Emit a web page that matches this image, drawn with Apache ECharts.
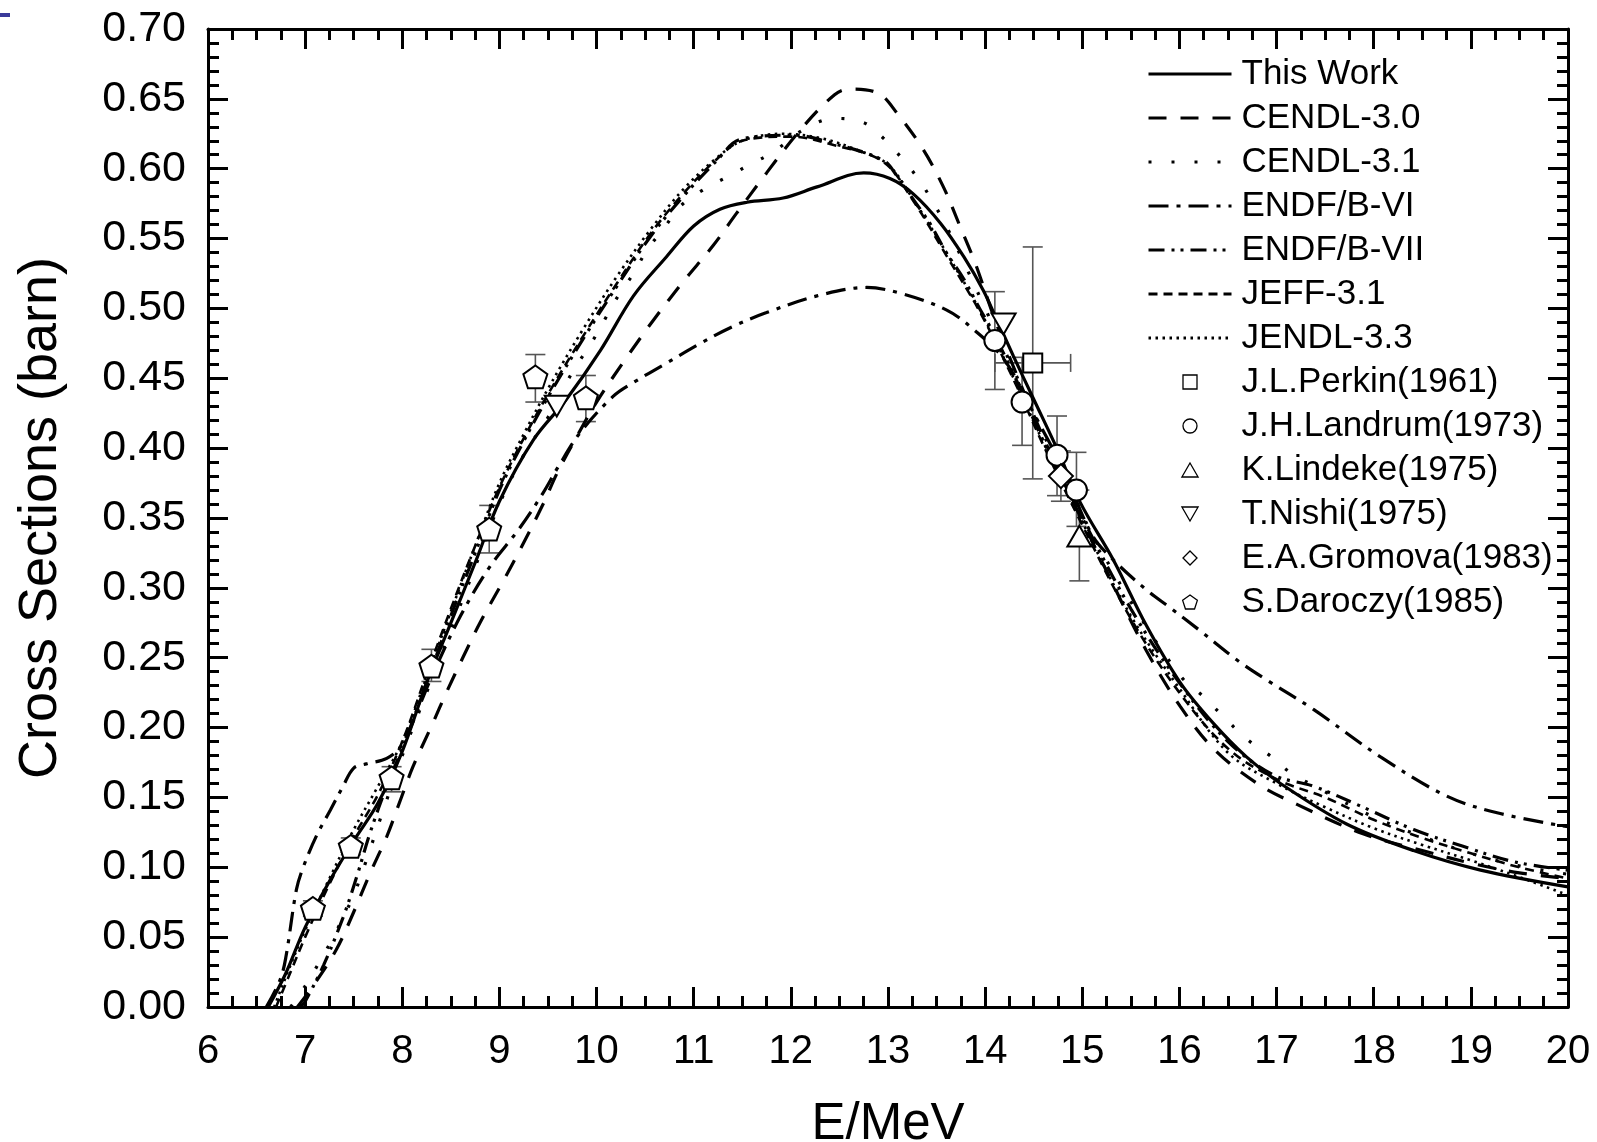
<!DOCTYPE html>
<html>
<head>
<meta charset="utf-8">
<script src="https://cdn.jsdelivr.net/npm/echarts@6/dist/echarts.min.js"></script>
<style>html,body{margin:0;padding:0;background:#fff;}#c{width:1597px;height:1142px;}</style>
</head>
<body>
<div id="c"></div>
<script>
// ---- data (E in MeV, cross section in barn) ----
const xTicks = [6,7,8,9,10,11,12,13,14,15,16,17,18,19,20];
const yTicks = ['0.00','0.05','0.10','0.15','0.20','0.25','0.30','0.35','0.40','0.45','0.50','0.55','0.60','0.65','0.70'];

const thisWork = [[6.62,0],[6.8,0.024],[7.0,0.057],[7.25,0.09],[7.5,0.119],[7.75,0.146],[8.0,0.183],[8.25,0.232],[8.5,0.275],[8.75,0.318],[9.0,0.362],[9.35,0.406],[9.69,0.435],[10.04,0.470],[10.38,0.509],[10.72,0.537],[11.0,0.559],[11.27,0.571],[11.55,0.576],[11.92,0.579],[12.27,0.587],[12.75,0.597],[13.02,0.593],[13.26,0.582],[13.54,0.561],[13.78,0.537],[13.98,0.513],[14.12,0.492],[14.29,0.466],[14.5,0.435],[14.75,0.398],[14.98,0.361],[15.32,0.320],[15.66,0.273],[16.01,0.232],[16.35,0.203],[16.69,0.179],[17.04,0.160],[17.72,0.131],[18.41,0.112],[19.1,0.098],[20.0,0.086]];
const cendl30 = [[6.92,0],[7.08,0.015],[7.32,0.041],[7.5,0.068],[7.67,0.096],[7.84,0.122],[7.98,0.148],[8.11,0.172],[8.3,0.201],[8.46,0.226],[8.63,0.251],[8.8,0.275],[9.04,0.305],[9.24,0.331],[9.45,0.36],[9.6,0.383],[9.81,0.41],[10.0,0.433],[10.31,0.465],[10.6,0.493],[10.89,0.519],[11.2,0.545],[11.44,0.568],[11.75,0.597],[12.1,0.628],[12.45,0.653],[12.6,0.657],[12.9,0.654],[13.09,0.640],[13.36,0.614],[13.57,0.587],[13.74,0.559],[13.9,0.532],[14.1,0.492],[14.4,0.44],[14.7,0.392],[15.0,0.348],[15.32,0.302],[15.66,0.255],[16.01,0.215],[16.35,0.185],[16.8,0.160],[17.21,0.145],[17.89,0.124],[18.5,0.112],[19.0,0.103],[19.5,0.096],[20.0,0.092]];
const cendl31 = [[6.85,0],[7.0,0.015],[7.17,0.035],[7.29,0.05],[7.39,0.064],[7.5,0.08],[7.63,0.105],[7.79,0.138],[8.0,0.18],[8.25,0.225],[8.5,0.27],[8.75,0.315],[9.0,0.36],[9.25,0.395],[9.5,0.422],[9.69,0.447],[9.83,0.463],[9.97,0.478],[10.1,0.494],[10.24,0.511],[10.38,0.525],[10.52,0.542],[10.69,0.557],[10.86,0.573],[11.1,0.585],[11.34,0.594],[11.58,0.603],[11.82,0.612],[12.13,0.628],[12.45,0.636],[12.75,0.633],[12.95,0.622],[13.16,0.606],[13.33,0.591],[13.48,0.574],[13.6,0.559],[13.8,0.53],[14.0,0.5],[14.3,0.455],[14.6,0.41],[15.0,0.352],[15.5,0.29],[16.01,0.237],[16.25,0.222],[16.45,0.208],[16.69,0.192],[16.93,0.180],[17.14,0.168],[17.5,0.154],[18.0,0.136],[18.5,0.122],[19.0,0.11],[19.5,0.101],[20.0,0.095]];
const endf6 = [[6.6,0],[6.74,0.019],[6.8,0.035],[6.91,0.084],[6.98,0.1],[7.12,0.123],[7.26,0.141],[7.39,0.158],[7.5,0.171],[7.63,0.174],[7.84,0.178],[8.0,0.188],[8.3,0.236],[8.6,0.28],[8.9,0.315],[9.2,0.342],[9.45,0.368],[9.6,0.386],[9.83,0.411],[10.17,0.437],[10.38,0.447],[10.7,0.46],[11.07,0.475],[11.4,0.487],[11.75,0.497],[12.27,0.509],[12.78,0.515],[13.12,0.511],[13.6,0.499],[13.88,0.485],[14.2,0.463],[14.5,0.425],[14.8,0.385],[15.1,0.338],[15.32,0.32],[15.67,0.298],[15.9,0.286],[16.2,0.27],[16.6,0.248],[16.9,0.234],[17.38,0.213],[18.07,0.179],[18.75,0.151],[19.27,0.139],[20.0,0.129]];
const endf7 = [[6.95,0],[7.0,0.004],[7.19,0.03],[7.39,0.064],[7.53,0.093],[7.67,0.125],[7.85,0.16],[8.0,0.185],[8.25,0.232],[8.5,0.28],[8.75,0.325],[9.0,0.37],[9.25,0.405],[9.52,0.439],[9.86,0.478],[10.21,0.516],[10.55,0.551],[10.89,0.580],[11.24,0.606],[11.48,0.621],[12.03,0.624],[12.44,0.618],[12.95,0.606],[13.09,0.595],[13.26,0.578],[13.43,0.561],[13.6,0.540],[13.78,0.521],[13.95,0.499],[14.05,0.487],[14.3,0.452],[14.6,0.405],[15.0,0.35],[15.5,0.285],[16.0,0.232],[16.5,0.19],[16.97,0.166],[17.38,0.158],[17.89,0.143],[18.41,0.127],[18.92,0.115],[19.44,0.104],[20.0,0.098]];
const jeff31 = [[6.7,0],[6.85,0.025],[7.0,0.05],[7.25,0.088],[7.5,0.122],[7.75,0.152],[8.0,0.19],[8.25,0.238],[8.5,0.285],[8.75,0.33],[9.0,0.372],[9.25,0.407],[9.52,0.441],[9.86,0.48],[10.21,0.518],[10.55,0.553],[10.89,0.582],[11.24,0.607],[11.5,0.62],[12.0,0.623],[12.44,0.617],[12.95,0.605],[13.26,0.577],[13.6,0.538],[13.95,0.497],[14.3,0.448],[14.6,0.402],[15.0,0.345],[15.5,0.278],[16.0,0.225],[16.5,0.185],[17.0,0.163],[17.5,0.15],[18.0,0.134],[18.5,0.121],[19.0,0.11],[19.5,0.1],[20.0,0.092]];
const jendl33 = [[6.68,0],[6.85,0.03],[7.0,0.055],[7.25,0.092],[7.5,0.127],[7.75,0.158],[8.0,0.19],[8.25,0.236],[8.5,0.283],[8.75,0.33],[9.0,0.375],[9.25,0.41],[9.52,0.445],[9.86,0.485],[10.21,0.523],[10.55,0.556],[10.89,0.585],[11.24,0.608],[11.5,0.62],[11.9,0.625],[12.3,0.622],[12.7,0.613],[13.0,0.603],[13.26,0.578],[13.6,0.54],[13.95,0.498],[14.3,0.449],[14.6,0.404],[15.0,0.347],[15.5,0.28],[16.0,0.228],[16.5,0.182],[17.0,0.16],[17.5,0.143],[18.0,0.128],[18.5,0.116],[19.0,0.105],[19.5,0.093],[20.0,0.08]];

const perkin = [[14.49,0.461]];
const landrum = [[14.10,0.477],[14.38,0.433],[14.74,0.395],[14.94,0.370]];
const lindeke = [[14.97,0.337]];
const nishi = [[9.59,0.430],[14.19,0.489]];
const gromova = [[14.78,0.380]];
const daroczy = [[7.08,0.0706],[7.47,0.115],[7.89,0.164],[8.30,0.244],[8.895,0.342],[9.37,0.451],[9.89,0.436]];

// vertical error bars: [E, low, high]
const yErrors = [[7.08,0.065,0.076],[7.47,0.109,0.121],[7.89,0.154,0.172],[8.30,0.233,0.256],[8.895,0.325,0.359],[9.37,0.433,0.467],[9.89,0.419,0.452],
  [14.10,0.442,0.512],[14.38,0.402,0.465],[14.74,0.366,0.423],[14.94,0.344,0.397],[14.78,0.362,0.398],[14.97,0.305,0.370],[14.49,0.378,0.544]];
// horizontal error bars: [sigma, Elow, Ehigh]
const xErrors = [[0.461,14.10,14.88]];

const FONT = '"Liberation Sans", Arial, Helvetica, sans-serif';
const chart = echarts.init(document.getElementById('c'), null, {renderer:'canvas'});

function lineSeries(name, data, type, width){
  return {name, type:'line', data, symbol:'none', smooth:0.35, z:3,
    lineStyle:{color:'#000', width:width||3, type:type, cap:'butt'},
    itemStyle:{color:'#000'}, emphasis:{disabled:true}, silent:true};
}
function scatterSeries(name, data, symbol, size){
  return {name, type:'scatter', data, symbol, symbolSize:size, symbolKeepAspect:true, z:5,
    itemStyle:{color:'#fff', borderColor:'#000', borderWidth:2, opacity:1}, emphasis:{disabled:true}, silent:true};
}
const PENTAGON = 'path://M5,0 L10,3.63 L8.09,9.51 L1.91,9.51 L0,3.63 Z';
const TRI_DOWN = 'path://M0,0 L10,0 L5,8.66 Z';
const TRI_UP = 'path://M5,0 L10,8.66 L0,8.66 Z';
const SQUARE = 'path://M0,0 L10,0 L10,10 L0,10 Z';
const DIAMOND = 'path://M5,0 L10,5 L5,10 L0,5 Z';

const errStyle = {stroke:'#555', lineWidth:1.6};
const axisLineS = {show:true, onZero:false, lineStyle:{color:'#000', width:3}};
const axisTickS = {show:true, inside:true, length:20, lineStyle:{color:'#000', width:3}};
const lineNames = ['This Work','CENDL-3.0','CENDL-3.1','ENDF/B-VI','ENDF/B-VII','JEFF-3.1','JENDL-3.3'];
const pointNames = ['J.L.Perkin(1961)','J.H.Landrum(1973)','K.Lindeke(1975)','T.Nishi(1975)','E.A.Gromova(1983)','S.Daroczy(1985)'];

chart.setOption({
  animation:false,
  backgroundColor:'#fff',
  textStyle:{fontFamily:FONT},
  grid:{left:208, right:29, top:29, bottom:135, containLabel:false, outerBoundsMode:'none'},
  graphic:[{type:'rect', left:0, top:13, shape:{width:10, height:4}, style:{fill:'#3a3a9a'}}],
  legend:{
    orient:'vertical', left:1147, top:56, padding:0, itemGap:8,
    itemWidth:83, itemHeight:14,
    textStyle:{fontSize:35, color:'#000', fontFamily:FONT, lineHeight:36, padding:[0,0,0,5]},
    itemStyle:{borderWidth:1.3},
    lineStyle:{width:3},
    selectedMode:false,
    data: lineNames.map(n=>({name:n, itemStyle:{opacity:0}})).concat(pointNames.map(n=>({name:n})))
  },
  xAxis:[
    {type:'value', min:6, max:20, interval:1, position:'bottom',
      name:'E/MeV', nameLocation:'middle', nameGap:92,
      nameTextStyle:{fontSize:51, color:'#000', fontFamily:FONT},
      axisLine:axisLineS, axisTick:axisTickS, splitLine:{show:false},
      minorTick:{show:true, splitNumber:4, length:11, lineStyle:{color:'#000', width:3}},
      axisLabel:{fontSize:40, color:'#000', margin:25, fontFamily:FONT,
        formatter:v=>xTicks.includes(Math.round(v)) ? String(Math.round(v)) : ''}},
    {type:'value', min:6, max:20, interval:1, position:'top',
      axisLine:axisLineS, axisTick:axisTickS,
      minorTick:{show:true, splitNumber:4, length:11, lineStyle:{color:'#000', width:3}},
      axisLabel:{show:false}, splitLine:{show:false}}
  ],
  yAxis:[
    {type:'value', min:0, max:0.7, interval:0.05, position:'left',
      name:'Cross Sections (barn)', nameLocation:'middle', nameGap:140,
      nameTextStyle:{fontSize:54, color:'#000', fontFamily:FONT},
      axisLine:axisLineS, axisTick:axisTickS,
      minorTick:{show:true, splitNumber:5, length:11, lineStyle:{color:'#000', width:3}},
      splitLine:{show:false},
      axisLabel:{fontSize:43, color:'#000', margin:22, fontFamily:FONT,
        formatter:v=>yTicks[Math.round(v/0.05)] || ''}},
    {type:'value', min:0, max:0.7, interval:0.05, position:'right',
      axisLine:axisLineS, axisTick:axisTickS,
      minorTick:{show:true, splitNumber:5, length:11, lineStyle:{color:'#000', width:3}},
      axisLabel:{show:false}, splitLine:{show:false}}
  ],
  series:[
    {type:'custom', name:'yerr', data:yErrors, z:2, silent:true,
      encode:{x:0, y:[1,2]},
      renderItem:(params, api)=>{
        const x=api.value(0), lo=api.value(1), hi=api.value(2);
        const a=api.coord([x,lo]), b=api.coord([x,hi]); const c=10;
        return {type:'group', children:[
          {type:'line', shape:{x1:a[0],y1:a[1],x2:b[0],y2:b[1]}, style:errStyle},
          {type:'line', shape:{x1:a[0]-c,y1:a[1],x2:a[0]+c,y2:a[1]}, style:errStyle},
          {type:'line', shape:{x1:b[0]-c,y1:b[1],x2:b[0]+c,y2:b[1]}, style:errStyle}
        ]};
      }},
    {type:'custom', name:'xerr', data:xErrors, z:2, silent:true,
      encode:{y:0, x:[1,2]},
      renderItem:(params, api)=>{
        const y=api.value(0), lo=api.value(1), hi=api.value(2);
        const a=api.coord([lo,y]), b=api.coord([hi,y]); const c=9;
        return {type:'group', children:[
          {type:'line', shape:{x1:a[0],y1:a[1],x2:b[0],y2:b[1]}, style:errStyle},
          {type:'line', shape:{x1:a[0],y1:a[1]-c,x2:a[0],y2:a[1]+c}, style:errStyle},
          {type:'line', shape:{x1:b[0],y1:b[1]-c,x2:b[0],y2:b[1]+c}, style:errStyle}
        ]};
      }},
    lineSeries('This Work', thisWork, 'solid', 3.2),
    lineSeries('CENDL-3.0', cendl30, [18,14], 3.2),
    lineSeries('CENDL-3.1', cendl31, [3,20], 3.2),
    lineSeries('ENDF/B-VI', endf6, [20,8,4,8], 3.2),
    lineSeries('ENDF/B-VII', endf7, [16,7,3,6,3,7], 3.2),
    lineSeries('JEFF-3.1', jeff31, [9,6], 2.6),
    lineSeries('JENDL-3.3', jendl33, [2.5,4.5], 2.6),
    scatterSeries('J.L.Perkin(1961)', perkin, SQUARE, 19),
    scatterSeries('J.H.Landrum(1973)', landrum, 'circle', 21),
    scatterSeries('K.Lindeke(1975)', lindeke, TRI_UP, 24),
    scatterSeries('T.Nishi(1975)', nishi, TRI_DOWN, 24),
    scatterSeries('E.A.Gromova(1983)', gromova, DIAMOND, 24),
    scatterSeries('S.Daroczy(1985)', daroczy, PENTAGON, 24)
  ]
});
</script>
</body>
</html>
